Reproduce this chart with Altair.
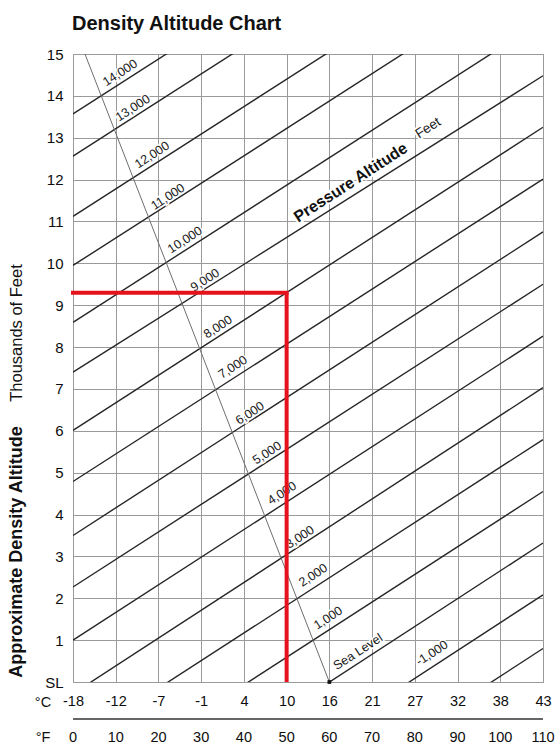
import altair as alt
import pandas as pd

# ---------------- data ----------------
title_text = "Density Altitude Chart"
temp_f_ticks = [0, 10, 20, 30, 40, 50, 60, 70, 80, 90, 100, 110]
temp_c_labels = ["-18", "-12", "-7", "-1", "4", "10", "16", "21", "27", "32", "38", "43"]
da_ticks = list(range(16))
da_tick_labels = ["SL"] + [str(i) for i in range(1, 16)]

# pressure-altitude lines: density altitude (thousands ft) at 0 F and at 110 F
pa_values = [14000, 13000, 12000, 11000, 10000, 9000, 8000, 7000, 6000,
             5000, 4000, 3000, 2000, 1000, 0, -1000, -2000]
pa_da_at_0f = [13.57, 12.56, 11.12, 9.95, 8.59, 7.40, 6.01, 4.79, 3.50,
               2.27, 1.00, -0.28, -1.47, -2.71, -3.99, -5.23, -6.50]
pa_da_at_110f = [20.77, 19.76, 18.33, 17.15, 15.80, 14.48, 13.25, 12.01, 10.75,
                 9.50, 8.26, 7.03, 5.79, 4.55, 3.32, 2.08, 0.80]

pa_label_text = ["14,000", "13,000", "12,000", "11,000", "10,000", "9,000", "8,000",
                 "7,000", "6,000", "5,000", "4,000", "3,000", "2,000", "1,000",
                 "Sea Level", "-1,000"]
pa_label_temp_f = [11.0, 14.0, 18.5, 22.2, 26.2, 30.9, 33.9, 37.4, 41.4, 45.4,
                   48.9, 53.1, 56.2, 59.7, 66.7, 84.0]
pa_label_da = [14.55, 13.71, 12.59, 11.59, 10.56, 9.60, 8.48, 7.52, 6.42, 5.47,
               4.51, 3.46, 2.55, 1.53, 0.72, 0.69]

# standard-temperature line
std_temp_f = [60.0, 2.8]
std_da = [0.0, 15.0]

# worked example (red lines)
example_temp_f = 50
example_da = 9.3

# ---------------- chart ----------------
W, H = 470, 628
FONT = "Liberation Sans"
GRID = "#9a9a9a"

x_scale = alt.Scale(domain=[0, 110], nice=False, zero=False)
y_scale = alt.Scale(domain=[0, 15], nice=False, zero=False)

c_expr = "[" + ",".join("'%s'" % c for c in temp_c_labels) + "][round(datum.value/10)]"
y_expr = "[" + ",".join("'%s'" % c for c in da_tick_labels) + "][round(datum.value)]"

x_axis = alt.Axis(values=temp_f_ticks, labelExpr=c_expr, title=None, ticks=False,
                  domain=False, grid=True, gridColor=GRID, gridWidth=1, gridOpacity=1,
                  labelPadding=12, labelFontSize=14.5, labelFont=FONT,
                  labelColor="#0d0d0d", labelFlush=False)
y_axis = alt.Axis(values=da_ticks, labelExpr=y_expr, title=None, ticks=False,
                  domain=False, grid=True, gridColor=GRID, gridWidth=1, gridOpacity=1,
                  labelPadding=10, labelFontSize=15, labelFont=FONT,
                  labelColor="#0d0d0d", labelFlush=False)


def X(field):
    return alt.X(field, scale=x_scale, axis=x_axis)


def Y(field):
    return alt.Y(field, scale=y_scale, axis=y_axis)


rows = []
for pa, a, b in zip(pa_values, pa_da_at_0f, pa_da_at_110f):
    rows.append({"pa": pa, "temp_f": temp_f_ticks[0], "da": a})
    rows.append({"pa": pa, "temp_f": temp_f_ticks[-1], "da": b})
lines_df = pd.DataFrame(rows)

lines = alt.Chart(lines_df).mark_line(clip=True, color="#262626", strokeWidth=1.4).encode(
    x=X("temp_f:Q"), y=Y("da:Q"), detail="pa:N",
)

std_df = pd.DataFrame({"temp_f": std_temp_f, "da": std_da})
std_line = alt.Chart(std_df).mark_line(clip=True, color="#6e6e6e", strokeWidth=1).encode(
    x=X("temp_f:Q"), y=Y("da:Q"),
)
std_dot = alt.Chart(std_df.iloc[:1]).mark_square(size=14, color="#111", opacity=1).encode(
    x=X("temp_f:Q"), y=Y("da:Q"),
)

lab_df = pd.DataFrame({"t": pa_label_text, "temp_f": pa_label_temp_f, "da": pa_label_da})
lab_enc = dict(x=X("temp_f:Q"), y=Y("da:Q"), text="t:N")
lab_halo = alt.Chart(lab_df).mark_text(font=FONT, fontSize=12.5, angle=327, color="white",
                                       stroke="white", strokeWidth=3).encode(**lab_enc)
lab_text = alt.Chart(lab_df).mark_text(font=FONT, fontSize=12.5, angle=327,
                                       color="#1a1a1a").encode(**lab_enc)

pa_title_df = pd.DataFrame({"t": ["Pressure Altitude"], "temp_f": [65.0], "da": [11.93]})
feet_df = pd.DataFrame({"t": ["Feet"], "temp_f": [83.1], "da": [13.23]})
pa_title_halo = alt.Chart(pa_title_df).mark_text(font=FONT, fontSize=16, fontWeight="bold",
                                                 angle=327, color="white", stroke="white",
                                                 strokeWidth=4).encode(**lab_enc)
pa_title = alt.Chart(pa_title_df).mark_text(font=FONT, fontSize=16, fontWeight="bold",
                                            angle=327, color="#111").encode(**lab_enc)
feet_halo = alt.Chart(feet_df).mark_text(font=FONT, fontSize=13.5, angle=327, color="white",
                                         stroke="white", strokeWidth=4).encode(**lab_enc)
feet = alt.Chart(feet_df).mark_text(font=FONT, fontSize=13.5, angle=327,
                                    color="#1a1a1a").encode(**lab_enc)

red_h_df = pd.DataFrame({"x0": [temp_f_ticks[0]], "x1": [example_temp_f], "y": [example_da]})
red_v_df = pd.DataFrame({"x": [example_temp_f], "y0": [da_ticks[0]], "y1": [example_da]})
red_h = alt.Chart(red_h_df).mark_rule(color="#e5121c", strokeWidth=4, strokeCap="square").encode(
    x=X("x0:Q"), x2="x1:Q", y=Y("y:Q"),
)
red_v = alt.Chart(red_v_df).mark_rule(color="#e5121c", strokeWidth=4).encode(
    x=X("x:Q"), y=Y("y0:Q"), y2="y1:Q",
)

# Fahrenheit row beneath the Celsius labels
f_df = pd.DataFrame({"temp_f": temp_f_ticks, "t": [str(v) for v in temp_f_ticks]})
f_row = alt.Chart(f_df).mark_text(font=FONT, fontSize=14.5, color="#0d0d0d", baseline="middle").encode(
    x=X("temp_f:Q"), y=alt.value(H + 56), text="t:N",
)
sep_df = pd.DataFrame({"x0": [temp_f_ticks[0]], "x1": [temp_f_ticks[-1]]})
sep = alt.Chart(sep_df).mark_rule(color="#333", strokeWidth=1.3).encode(
    x=X("x0:Q"), x2="x1:Q", y=alt.value(H + 37),
)


def free_text(txt, x, y, size, weight="normal", angle=0, align="center"):
    return alt.Chart(pd.DataFrame({"t": [txt]})).mark_text(
        font=FONT, fontSize=size, fontWeight=weight, angle=angle, align=align,
        baseline="middle", color="#111").encode(text="t:N", x=alt.value(x), y=alt.value(y))


title = free_text(title_text, -1, -30, 20, weight="bold", align="left")
c_unit = free_text("°C", -30, H + 21, 14.5)
f_unit = free_text("°F", -30, H + 56, 14.5)
y_title1 = free_text("Approximate Density Altitude", -56, 498, 18, weight="bold", angle=270)
y_title2 = free_text("Thousands of Feet", -56, 279, 16.5, angle=270)

chart = alt.layer(
    lines, std_line, std_dot, lab_halo, lab_text, pa_title_halo, pa_title, feet_halo, feet,
    red_h, red_v, f_row, sep, title, c_unit, f_unit, y_title1, y_title2,
).properties(
    width=W, height=H,
    autosize=alt.AutoSizeParams(type="none"),
    padding={"left": 73, "top": 54, "right": 15, "bottom": 73},
    background="white",
).configure_view(stroke=GRID, strokeWidth=1)

chart.save("out.html", embed_options={"renderer": "svg", "actions": False})
